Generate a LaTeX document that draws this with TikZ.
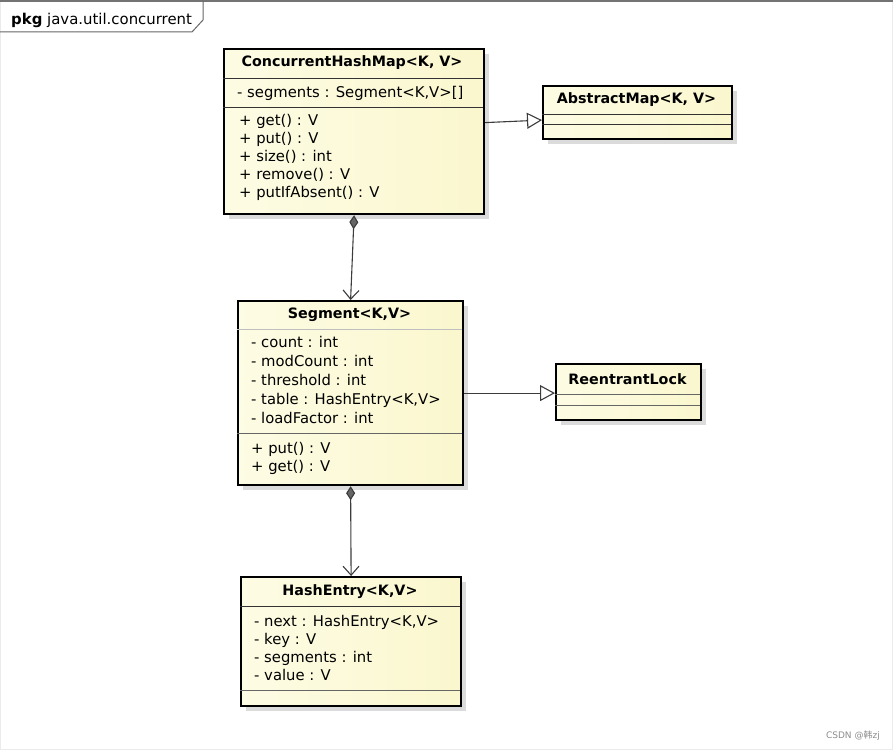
\documentclass[tikz,border=0pt]{standalone}
\usepackage{fontspec}
\setmainfont{DejaVu Sans}
\newfontfamily\cjkfont{Noto Sans CJK SC}
\usetikzlibrary{arrows.meta, positioning, calc, shadows}

\definecolor{classfill}{RGB}{253,252,228}
\definecolor{classfilltwo}{RGB}{250,247,206}
\definecolor{linkgray}{RGB}{60,60,60}

\tikzset{
    classbox/.style={draw=black, line width=2.2pt, anchor=north west,
        left color=classfill, right color=classfilltwo,
        drop shadow={shadow xshift=5pt, shadow yshift=-5pt, fill=black!14, opacity=1}},
    classname/.style={font=\fontsize{14.3}{16}\bfseries\selectfont},
    member/.style={anchor=west, text height=11pt, text depth=3pt, font=\fontsize{14.8}{17}\selectfont},
    sepline/.style={draw=black!60, line width=0.8pt},
    owns/.style={draw=linkgray, line width=1.1pt,
        {Diamond[fill=black!60, length=14pt, width=9pt]}-{Straight Barb[length=9pt, width=16pt]}},
    extends/.style={draw=linkgray, line width=1.1pt,
        -{Triangle[open, length=15pt, width=16pt, fill=white]}}
}

\begin{document}
\begin{tikzpicture}[x=1pt, y=-1pt, every node/.style={inner sep=0pt}]

\useasboundingbox (0,0) rectangle (893,751);

% --- package frame and tab ---
\draw[black!8] (0.5,0) rectangle (892.5,749);
\draw[black!55, line width=2pt] (0,1) -- (893,1);
\draw[black!60, line width=1pt] (203,1) -- (203,20) -- (192,32) -- (0,32);
\node[anchor=base west, font=\fontsize{14.9}{16}\selectfont] (pkg) at (11,25) {\textbf{pkg} java.util.concurrent};

% --- ConcurrentHashMap ---
\node[classbox, minimum width=260pt, minimum height=165pt] (chm) at (223,48) {};
\node[classname] (chm-name) at (352,63) {ConcurrentHashMap<K, V>};
\draw[sepline, draw=black!80] (223,78) -- (483,78);
\node[member] (chm-a1) at (237,94) {- segments : Segment<K,V>[]};
\draw[sepline, draw=black!80] (223,107) -- (483,107);
\foreach \m [count=\i] in {{+ get() : V}, {+ put() : V}, {+ size() : int}, {+ remove() : V}, {+ putIfAbsent() : V}}
    \node[member] (chm-m\i) at (239,104+18*\i) {\m};

% --- AbstractMap ---
\node[classbox, minimum width=189pt, minimum height=53pt] (am) at (542,85) {};
\node[classname] (am-name) at (636.5,100) {AbstractMap<K, V>};
\draw[sepline, draw=black!80] (542,114) -- (731,114);
\draw[sepline, draw=black!80] (542,124) -- (731,124);

% --- Segment ---
\node[classbox, minimum width=225pt, minimum height=184pt] (seg) at (237,300) {};
\node[classname] (seg-name) at (349.5,315) {Segment<K,V>};
\draw[sepline, draw=black!25] (237,329) -- (462,329);
\foreach \a [count=\i] in {{- count : int}, {- modCount : int}, {- threshold : int}, {- table : HashEntry<K,V>}, {- loadFactor : int}}
    \node[member] (seg-a\i) at (251,324+19*\i) {\a};
\draw[sepline] (237,433) -- (462,433);
\foreach \m [count=\i] in {{+ put() : V}, {+ get() : V}}
    \node[member] (seg-m\i) at (251,431+18*\i) {\m};

% --- ReentrantLock ---
\node[classbox, minimum width=145pt, minimum height=56pt] (rl) at (555,363) {};
\node[classname] (rl-name) at (627.5,379) {ReentrantLock};
\draw[sepline] (555,394) -- (700,394);
\draw[sepline] (555,405) -- (700,405);

% --- HashEntry ---
\node[classbox, minimum width=220pt, minimum height=129pt] (he) at (240,576) {};
\node[classname] (he-name) at (350,592) {HashEntry<K,V>};
\draw[sepline, draw=black!80] (240,606) -- (460,606);
\foreach \a [count=\i] in {{- next : HashEntry<K,V>}, {- key : V}, {- segments : int}, {- value : V}}
    \node[member] (he-a\i) at (254,604+18*\i) {\a};
\draw[sepline] (240,690) -- (460,690);

% --- relations ---
\draw[owns] (chm.south) -- (seg.north);
\draw[owns] (seg.south) -- (he.north);
\draw[extends] ([yshift=9pt]chm.east) -- ([yshift=-7.5pt]am.west);
\draw[extends] (seg.east) -- (seg.east -| rl.west);

% --- watermark ---
\node[anchor=east, text=black!45, font=\fontsize{9}{10}\selectfont] (mark) at (880,736) {CSDN @{\cjkfont 韩}zj};

\end{tikzpicture}
\end{document}
